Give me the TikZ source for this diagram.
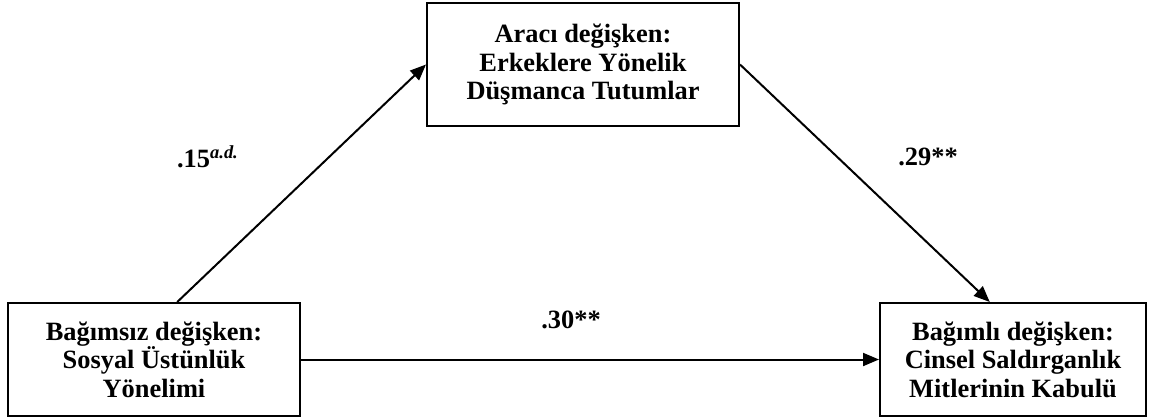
\documentclass[tikz,border=0pt]{standalone}
\usepackage{fontspec}
\setmainfont{Liberation Serif}
\usetikzlibrary{arrows.meta}

\begin{document}
\begin{tikzpicture}[
		x=0.5pt, y=-0.5pt,
		var/.style={draw,line width=1pt,rectangle,align=center,font=\fontsize{13.2}{14.3}\selectfont\bfseries,inner sep=0pt},
		coef/.style={font=\fontsize{13.2}{14.3}\selectfont\bfseries,inner sep=0pt},
		>={Triangle[length=8pt,width=6.5pt]}]
	\useasboundingbox (0,0) rectangle (1157,419);
	%% define boxes
	\node (sou) at (154,359.5) [var, minimum width=146pt, minimum height=56.5pt] {Bağımsız değişken:\\Sosyal Üstünlük\\Yönelimi};
	\node (med) at (583,64.5) [var, minimum width=156pt, minimum height=61.5pt] {Aracı değişken:\\Erkeklere Yönelik\\Düşmanca Tutumlar};
	\node (dep) at (1013,359.5) [var, minimum width=133pt, minimum height=56.5pt] {Bağımlı değişken:\\Cinsel Saldırganlık\\Mitlerinin Kabulü};
	%% define coefficients
	\node (ca) at (208,157) [coef] {.15\textsuperscript{\itshape a.d.}};
	\node (cb) at (928,157) [coef] {.29**};
	\node (cc) at (571,320) [coef] {.30**};
	%% define arrows
	\draw[->,line width=1pt] (sou.68) -- (med.west);
	\draw[->,line width=1pt] (med.east) -- (dep.112);
	\draw[->,line width=1pt] (sou.east) -- (dep.west);
\end{tikzpicture}
\end{document}
